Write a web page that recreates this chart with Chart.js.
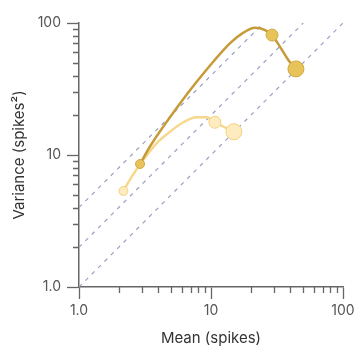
<!DOCTYPE html>
<html>
<head>
<meta charset="utf-8">
<script src="https://cdn.jsdelivr.net/npm/chart.js@4"></script>
<style>
  html, body { margin: 0; padding: 0; background: #fff; }
  #wrap { width: 358px; height: 350px; }
</style>
</head>
<body>
<div id="wrap"><canvas id="myChart" width="358" height="350"></canvas></div>
<script>
// axis tick labels
const majorTicks = [1, 10, 100];
const tickLabels = ['1.0', '10', '100'];
const minorTickValues = [2, 3, 4, 5, 6, 7, 8, 9, 20, 30, 40, 50, 60, 70, 80, 90];

// reference lines: variance = fano * mean
const fanoFactors = [1, 2, 4];

const darkCurveMean = [2.9, 3.45, 4.35, 5.82, 7.79, 10.4, 13.9, 17.6, 21.5, 25.7, 29, 33.3, 38.5, 44];
const darkCurveVar = [8.55, 11.6, 16.4, 24.6, 35.9, 50.9, 70.2, 84.5, 92.1, 88.5, 81, 66.1, 52.5, 44.9];
const darkMean = [2.9, 29, 44];
const darkVar = [8.55, 81, 44.9];

// light series
const lightCurveMean = [2.17, 2.51, 3.07, 3.88, 4.89, 6.17, 7.79, 9.27, 10.7, 14.9];
const lightCurveVar = [5.34, 6.85, 9.16, 12.3, 15.0, 17.7, 19.3, 19.3, 17.7, 15.0];
const lightMean = [2.17, 10.7, 14.9];
const lightVar = [5.34, 17.7, 15.0];

const markerSizes = [4.5, 6, 8];

function toPoints(xs, ys) {
    return xs.map((x, i) => ({ x: x, y: ys[i] }));
}

const fanoSets = fanoFactors.map(f => ({
    type: 'line',
    data: [{ x: 1, y: f }, { x: 100 / f, y: 100 }],
    borderColor: '#98a0c0',
    borderWidth: 1.2,
    borderDash: [4, 5],
    pointRadius: 0,
    order: 10
}));

// minor ticks drawn shorter than the major ones
const minorTicks = {
    id: 'minorTicks',
    afterDraw(chart) {
        const c = chart.ctx;
        const area = chart.chartArea;
        const xs = chart.scales.x;
        const ys = chart.scales.y;
        c.save();
        c.lineWidth = 1.3;
        c.strokeStyle = '#666';
        c.beginPath();
        minorTickValues.forEach(v => {
            const px = Math.round(xs.getPixelForValue(v)) + 0.5;
            c.moveTo(px, area.bottom);
            c.lineTo(px, area.bottom + 6);
            const py = Math.round(ys.getPixelForValue(v)) + 0.5;
            c.moveTo(area.left, py);
            c.lineTo(area.left - 6, py);
        });
        c.stroke();
        c.restore();
    }
};

function logAxis(title, isX) {
    return {
        type: 'logarithmic',
        min: 1,
        max: 100,
        afterBuildTicks(scale) {
            scale.ticks = majorTicks.map(v => ({ value: v }));
        },
        afterFit(scale) {
            if (isX) scale.height = 63;
            else scale.width = 79;
        },
        grid: {
            drawOnChartArea: false,
            tickLength: 12,
            tickWidth: 1.3,
            tickColor: '#666'
        },
        border: { display: true, color: '#666', width: 1.5 },
        ticks: {
            autoSkip: false,
            maxRotation: 0,
            padding: isX ? 3 : 6,
            color: '#555',
            font: { family: 'Inter', size: 14 },
            callback: v => {
                const i = majorTicks.indexOf(v);
                return i >= 0 ? tickLabels[i] : '';
            }
        },
        title: {
            display: true,
            text: title,
            color: '#333',
            font: { family: 'Inter', size: 15 },
            padding: isX ? { bottom: 3 } : { top: 10 }
        }
    };
}

const ctx = document.getElementById('myChart').getContext('2d');
new Chart(ctx, {
    type: 'scatter',
    data: {
        datasets: [
            {
                type: 'scatter',
                data: toPoints(darkMean, darkVar),
                backgroundColor: '#e8c35a',
                borderColor: '#d2a944',
                borderWidth: 1,
                pointRadius: markerSizes,
                pointHoverRadius: markerSizes,
                order: 1
            },
            {
                type: 'line',
                data: toPoints(darkCurveMean, darkCurveVar),
                borderColor: '#c69b38',
                borderWidth: 2.5,
                pointRadius: 0,
                tension: 0.4,
                cubicInterpolationMode: 'monotone',
                order: 2
            },
            {
                type: 'scatter',
                data: toPoints(lightMean, lightVar),
                backgroundColor: '#feecc0',
                borderColor: '#f3d27c',
                borderWidth: 1,
                pointRadius: markerSizes,
                pointHoverRadius: markerSizes,
                order: 3
            },
            {
                type: 'line',
                data: toPoints(lightCurveMean, lightCurveVar),
                borderColor: '#f6d88c',
                borderWidth: 2.5,
                pointRadius: 0,
                tension: 0.4,
                cubicInterpolationMode: 'monotone',
                order: 4
            },
            ...fanoSets
        ]
    },
    options: {
        responsive: false,
        animation: false,
        layout: { padding: { top: 23, right: 15, left: 0, bottom: 0 } },
        plugins: {
            legend: { display: false },
            tooltip: { enabled: false }
        },
        scales: {
            x: logAxis('Mean (spikes)', true),
            y: logAxis('Variance (spikes\u00b2)', false)
        }
    },
    plugins: [minorTicks]
});
</script>
</body>
</html>
